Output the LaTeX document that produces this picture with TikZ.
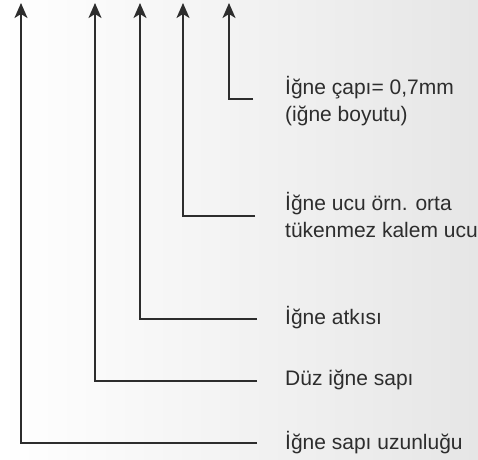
\documentclass[tikz,border=0pt]{standalone}
\usepackage{fontspec}
\setmainfont{Liberation Sans}
\definecolor{inkgray}{RGB}{45,45,45}
\definecolor{bggray}{RGB}{230,230,230}
\usetikzlibrary{calc, positioning, arrows.meta}

\begin{document}
\begin{tikzpicture}[x=1pt, y=-1pt,
    lbl/.style={anchor=west, text=inkgray, inner sep=0pt,
      font=\fontsize{21}{27}\selectfont, align=left},
    lead/.style={-{Stealth[length=15pt, width=13pt, inset=4pt]}, inkgray, line width=1.7pt},
  ]
    \useasboundingbox (0,0) rectangle (478,459);
    \shade[left color=white, right color=bggray] (0,0) rectangle (478,459);
    % tips of the arrows
    \coordinate (tipsap) at (21,3);
    \coordinate (tipduz) at (95,3);
    \coordinate (tipatk) at (140,3);
    \coordinate (tipucu) at (183,3);
    \coordinate (tipcap) at (229,3);
    % labels
    \node[lbl] (cap) at (285,101) {İğne çapı= 0,7mm\\(iğne boyutu)};
    \node[lbl] (ucu) at (285,215) {İğne ucu örn. orta\\tükenmez kalem ucu};
    \node[lbl] (atk) at (285,318) {İğne atkısı};
    \node[lbl] (duz) at (285,380) {Düz iğne sapı};
    \node[lbl] (sap) at (285,443) {İğne sapı uzunluğu};
    % leaders
    \draw[lead] ([xshift=-32pt, yshift=2pt]cap.west) -| (tipcap);
    \draw[lead] ([xshift=-30pt, yshift=-1pt]ucu.west) -| (tipucu);
    \draw[lead] ([xshift=-28pt, yshift=-1pt]atk.west) -| (tipatk);
    \draw[lead] ([xshift=-28pt, yshift=-1pt]duz.west) -| (tipduz);
    \draw[lead] ([xshift=-28pt]sap.west) -| (tipsap);
  \end{tikzpicture}
\end{document}
